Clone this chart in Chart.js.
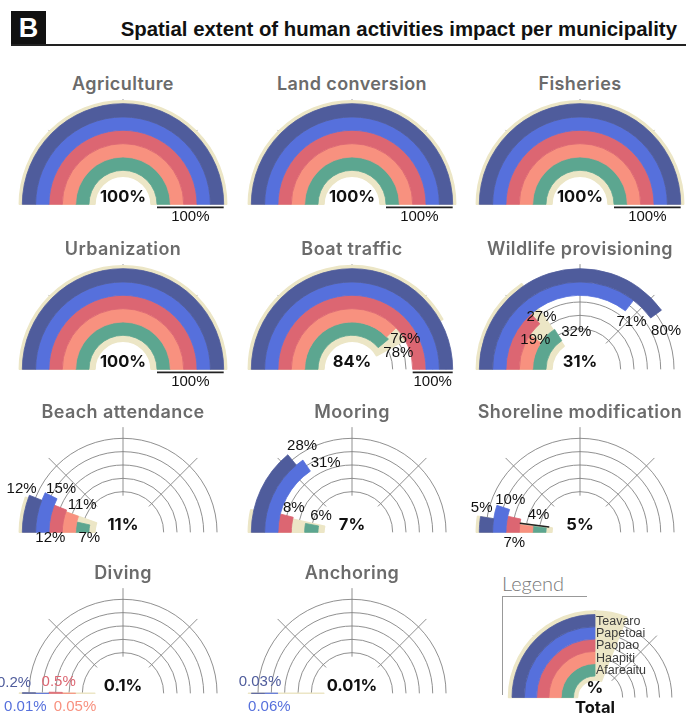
<!DOCTYPE html>
<html><head><meta charset="utf-8">
<script src="https://cdn.jsdelivr.net/npm/chart.js@4.4.0/dist/chart.umd.min.js"></script>
<style>
html,body{margin:0;padding:0;background:#fff;width:686px;height:718px;overflow:hidden;}
body{position:relative;}
canvas{position:absolute;}
.title{position:absolute;font-family:Inter,"Open Sans",sans-serif;font-weight:600;font-size:18px;letter-spacing:0.4px;color:#6b6b6b;transform:translate(-50%,-50%);white-space:nowrap;}
#hdrBox{position:absolute;left:11px;top:11px;width:35px;height:34px;background:#111;color:#fff;font:bold 27px "Liberation Sans",Arial,sans-serif;display:flex;align-items:center;justify-content:center;}
#hdrTitle{position:absolute;right:9px;top:29px;transform:translateY(-50%);font:bold 20.4px "Liberation Sans",Arial,sans-serif;color:#111;white-space:nowrap;}
#hdrLine{position:absolute;left:11px;top:44px;width:675px;height:2px;background:#222;}
#legTitle{position:absolute;left:502px;top:583px;transform:translateY(-50%);font:300 20px Lato,"Open Sans",sans-serif;color:#777;}
#legH{position:absolute;left:502px;top:596px;width:85px;height:1px;background:#999;}
#legV{position:absolute;left:502px;top:596px;width:1px;height:99px;background:#999;}
</style></head><body>
<div id="hdrBox">B</div>
<div id="hdrTitle">Spatial extent of human activities impact per municipality</div>
<div id="hdrLine"></div>
<div id="legTitle">Legend</div><div id="legH"></div><div id="legV"></div>
<script>
// ---------- DATA ----------
const municipalities = ['Teavaro', 'Papetoai', 'Paopao', 'Haapiti', 'Afareaitu'];
const activities = ['Agriculture', 'Land conversion', 'Fisheries', 'Urbanization', 'Boat traffic',
  'Wildlife provisioning', 'Beach attendance', 'Mooring', 'Shoreline modification', 'Diving', 'Anchoring'];
// values per municipality (Teavaro, Papetoai, Paopao, Haapiti, Afareaitu), % of area
const agriculture = [100, 100, 100, 100, 100];
const landConversion = [100, 100, 100, 100, 100];
const fisheries = [100, 100, 100, 100, 100];
const urbanization = [100, 100, 100, 100, 100];
const boatTraffic = [100, 100, 100, 76, 78];
const wildlifeProvisioning = [80, 71, 27, 19, 32];
const beachAttendance = [12, 15, 12, 11, 7];
const mooring = [28, 31, 8, 0, 6];
const shorelineModification = [5, 10, 7, 4, 4];
const diving = [0.2, 0.01, 0.5, 0.05, 0];
const anchoring = [0.03, 0.06, 0, 0, 0];
// total per activity
const totals = [100, 100, 100, 100, 84, 31, 11, 7, 5, 0.1, 0.01];
// legend example
const legendValues = [50, 50, 50, 50, 50];
const legendTotal = 62;

// ---------- STYLE / LAYOUT ----------
const ringColors = ['#4f5c9c', '#5670dc', '#dc6672', '#f8917f', '#5ca690'];
const beige = '#ece6c6';
const gridColor = 'rgba(125,125,125,0.85)';
const colX = [123, 352, 580];
const rowY = [204, 369, 532, 693];
const CW = 250, CH = 170;

const seriesByPanel = [agriculture, landConversion, fisheries, urbanization, boatTraffic,
  wildlifeProvisioning, beachAttendance, mooring, shorelineModification, diving, anchoring];

const fullGroup = [{from: 0, to: 4, line: [0, 3], text: [0, 10]}];
const labelLayout = [
  {groups: fullGroup}, {groups: fullGroup}, {groups: fullGroup}, {groups: fullGroup},
  {rings: {3: [14, 6], 4: [15, 9]}, groups: [{from: 0, to: 2, line: [0, 3], text: [0, 10]}]},
  {rings: {0: [10, 17], 1: [2, 16], 2: [6, -2], 3: [0, 1], 4: [18, -3]}},
  {rings: {0: [-14, -9], 1: [10, -7], 2: [-10, 30], 3: [10, -9], 4: [6, 14]}},
  {rings: {0: [10, -14], 1: [19, -3], 2: [7, -8], 4: [9, -9]}},
  {rings: {0: [-5.5, -10], 1: [7, -8], 2: [0, 25]}, groups: [{from: 3, to: 4, extendIn: 3, line: [0, -1.5], text: [4, -10.5]}]},
  {colored: true, rings: {0: [-15, -10], 1: [-17, 14], 2: [3, -10], 3: [6, 14]}},
  {colored: true, rings: {0: [2, -11], 1: [-2, 14]}}
];

function pct(v) { return String(v) + '%'; }

function makePlugin(cfg) {
  return {
    id: 'radialDecor',
    afterDatasetsUpdate(chart) {
      const outer = chart.getDatasetMeta(0).controller.outerRadius + cfg.beigeOut;
      const inner = chart.getDatasetMeta(4).controller.innerRadius - cfg.beigeIn;
      chart.getDatasetMeta(5).data.forEach(a => { a.outerRadius = outer; a.innerRadius = inner; });
    },
    beforeDatasetsDraw(chart) {
      const ctx = chart.ctx;
      const a0 = chart.getDatasetMeta(0).data[0];
      const cx = a0.x, cy = a0.y;
      const mids = [0, 1, 2, 3, 4].map(i => { const c = chart.getDatasetMeta(i).controller; return (c.innerRadius + c.outerRadius) / 2; });
      ctx.save();
      ctx.strokeStyle = gridColor; ctx.lineWidth = 1;
      mids.forEach(r => { ctx.beginPath(); ctx.arc(cx, cy, r, Math.PI, 2 * Math.PI); ctx.stroke(); });
      const rIn = mids[4] - 4, rOut = chart.getDatasetMeta(0).controller.outerRadius + 4.5;
      [-0.75, -0.5, -0.25].forEach(f => {
        const t = f * Math.PI;
        ctx.beginPath();
        ctx.moveTo(cx + rIn * Math.cos(t), cy + rIn * Math.sin(t));
        ctx.lineTo(cx + rOut * Math.cos(t), cy + rOut * Math.sin(t));
        ctx.stroke();
      });
      ctx.restore();
    },
    afterDatasetsDraw(chart) {
      const ctx = chart.ctx;
      const a0 = chart.getDatasetMeta(0).data[0];
      const cx = a0.x, cy = a0.y;
      ctx.save();
      ctx.textAlign = 'center'; ctx.textBaseline = 'middle';
      const L = cfg.layout || {};
      ctx.font = '15px "Liberation Sans", Arial, sans-serif';
      Object.keys(L.rings || {}).forEach(k => {
        const i = +k; const off = L.rings[k];
        const el = chart.getDatasetMeta(i).data[0];
        const rm = (el.innerRadius + el.outerRadius) / 2;
        ctx.fillStyle = L.colored ? ringColors[i] : '#111';
        ctx.fillText(pct(cfg.values[i]), el.x + rm * Math.cos(el.endAngle) + off[0], el.y + rm * Math.sin(el.endAngle) + off[1]);
      });
      (L.groups || []).forEach(g => {
        const eo = chart.getDatasetMeta(g.from).data[0], ei = chart.getDatasetMeta(g.to).data[0];
        const t = eo.endAngle;
        const r1 = ei.innerRadius - (g.extendIn || 0), r2 = eo.outerRadius;
        const x1 = eo.x + r1 * Math.cos(t) + g.line[0], y1 = eo.y + r1 * Math.sin(t) + g.line[1];
        const x2 = eo.x + r2 * Math.cos(t) + g.line[0], y2 = eo.y + r2 * Math.sin(t) + g.line[1];
        ctx.strokeStyle = '#222'; ctx.lineWidth = 1.6;
        ctx.beginPath(); ctx.moveTo(x1, y1); ctx.lineTo(x2, y2); ctx.stroke();
        ctx.fillStyle = '#111';
        ctx.fillText(pct(cfg.values[g.from]), (x1 + x2) / 2 + g.text[0], (y1 + y2) / 2 + g.text[1]);
      });
      if (cfg.legend) {
        ctx.font = '12.5px "Liberation Sans", Arial, sans-serif';
        ctx.textAlign = 'left'; ctx.fillStyle = '#3c3c3c';
        municipalities.forEach((m, i) => {
          const el = chart.getDatasetMeta(i).data[0];
          const rm = (el.innerRadius + el.outerRadius) / 2;
          ctx.fillText(m, el.x + rm * Math.cos(el.endAngle) + 1, el.y + rm * Math.sin(el.endAngle) + 0.5);
        });
        ctx.textAlign = 'center'; ctx.fillStyle = '#111';
        ctx.font = 'bold 16.5px Inter, "Open Sans", sans-serif';
        ctx.fillText('%', cx, cy - 9);
        ctx.fillText('Total', cx, cy + 11);
      } else {
        ctx.fillStyle = '#111';
        ctx.font = 'bold 16.5px Inter, "Open Sans", sans-serif';
        ctx.fillText(pct(cfg.total), cx, cy - 7);
      }
      ctx.restore();
    }
  };
}

function makeChart(cx, by, values, total, cfg) {
  const R = cfg.R, r = cfg.r;
  const cv = document.createElement('canvas');
  cv.width = CW; cv.height = CH;
  cv.style.left = (cx - CW / 2) + 'px';
  cv.style.top = (by - (CH / 2 + R / 2)) + 'px';
  document.body.appendChild(cv);
  const datasets = values.map((v, i) => ({
    data: [v, 100 - v],
    backgroundColor: [ringColors[i], 'rgba(0,0,0,0)'],
    borderColor: [ringColors[i], 'rgba(0,0,0,0)'],
    borderWidth: [0.8, 0],
    weight: 1, order: 0
  }));
  datasets.push({
    data: [total, 100 - total],
    backgroundColor: [beige, 'rgba(0,0,0,0)'],
    borderColor: [beige, 'rgba(0,0,0,0)'],
    borderWidth: [1.5, 0],
    weight: 0, order: 1
  });
  cfg.values = values; cfg.total = total;
  return new Chart(cv, {
    type: 'doughnut',
    data: {labels: ['value', 'rest'], datasets},
    options: {
      responsive: false, animation: false, events: [],
      rotation: -90, circumference: 180,
      radius: R, cutout: (r / R * 100) + '%',
      layout: {padding: 0},
      plugins: {legend: {display: false}, tooltip: {enabled: false}}
    },
    plugins: [makePlugin(cfg)]
  });
}

activities.forEach((name, k) => {
  const cx = colX[k % 3], by = rowY[Math.floor(k / 3)];
  const t = document.createElement('div');
  t.className = 'title'; t.textContent = name;
  t.style.left = cx + 'px'; t.style.top = (by - 121) + 'px';
  document.body.appendChild(t);
  makeChart(cx, by, seriesByPanel[k], totals[k], {R: 100.7, r: 34, beigeOut: 3, beigeIn: 6, layout: labelLayout[k]});
});
makeChart(595, 697, legendValues, legendTotal, {R: 83, r: 21.5, beigeOut: 3.5, beigeIn: 4, legend: true, layout: {}});
</script>
</body></html>
